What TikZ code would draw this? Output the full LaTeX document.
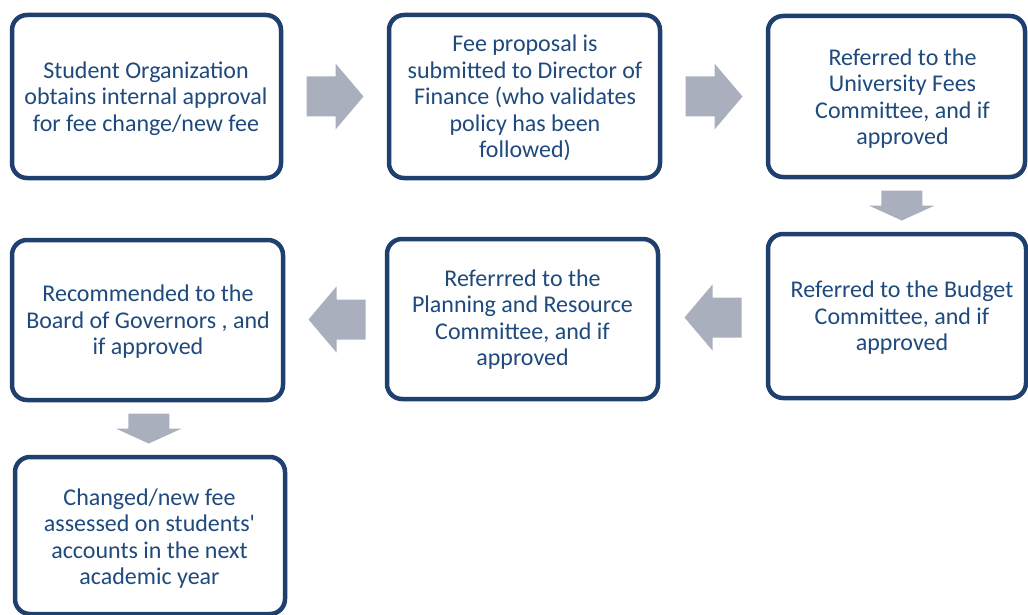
\documentclass[tikz,border=0pt]{standalone}
\usepackage{fontspec}
\setmainfont{Carlito}
\usetikzlibrary{calc}
\definecolor{boxline}{HTML}{1F3F6E}
\definecolor{boxtext}{HTML}{1F4A7D}
\definecolor{arrowfill}{HTML}{A9AFBD}
\tikzset{
  stepbox/.style={draw=boxline, line width=4.5pt, rounded corners=15pt, fill=white, inner sep=0pt},
  steptext/.style={text=boxtext, align=center, inner sep=0pt,
    font=\fontsize{24}{26.5}\selectfont},
  harrow/.pic={\fill[arrowfill] (-28.5,-20) -- (0.5,-20) -- (0.5,-33) -- (28.5,0) -- (0.5,33) -- (0.5,20) -- (-28.5,20) -- cycle;},
  varrow/.pic={\fill[arrowfill] (-20.5,-15) -- (20.5,-15) -- (20.5,0) -- (33,0) -- (0,15) -- (-33,0) -- (-20.5,0) -- cycle;}
}
\begin{document}
\begin{tikzpicture}[x=1pt,y=-1pt]
\useasboundingbox (0,0) rectangle (1028,615);
\clip (0,0) rectangle (1028,615);
\node[stepbox, minimum width=269pt, minimum height=163pt] (b1) at (146.5,96.5) {};
\node[stepbox, minimum width=271pt, minimum height=163pt] (b2) at (524.5,96.5) {};
\node[stepbox, minimum width=257pt, minimum height=161pt] (b3) at (896.5,96.5) {};
\node[stepbox, minimum width=258pt, minimum height=164pt] (b4) at (897,316) {};
\node[stepbox, minimum width=271pt, minimum height=160pt] (b5) at (522.5,319) {};
\node[stepbox, minimum width=271pt, minimum height=160pt] (b6) at (147.5,320) {};
\node[stepbox, minimum width=270pt, minimum height=157pt] (b7) at (150,535.5) {};
\node[steptext] (t1) at ($(b1.center)+(-0.5,2)$)
  {Student Organization\\obtains internal approval\\for fee change/new fee};
\node[steptext] (t2) at ($(b2.center)+(0.5,1.5)$)
  {Fee proposal is\\submitted to Director of\\Finance (who validates\\policy has been\\followed)};
\node[steptext] (t3) at ($(b3.center)+(6,2)$)
  {Referred to the\\University Fees\\Committee, and if\\approved};
\node[steptext] (t4) at ($(b4.center)+(5,2)$)
  {Referred to the Budget\\Committee, and if\\approved};
\node[steptext] (t5) at ($(b5.center)+(0,0.5)$)
  {Referrred to the\\Planning and Resource\\Committee, and if\\approved};
\node[steptext] (t6) at ($(b6.center)+(0.5,2)$)
  {Recommended to the\\Board of Governors , and\\if approved};
\node[steptext] (t7) at ($(b7.center)+(-0.5,3)$)
  {Changed/new fee\\assessed on students\textquotesingle\\accounts in the next\\academic year};
\coordinate (a1) at ($(b1.east)!0.5!(b2.west)$);
\coordinate (a2) at ($(b2.east)!0.5!(b3.west)$);
\coordinate (a3) at ($(b3.south)!0.5!(b4.north)+(5,0)$);
\coordinate (a4) at ($(b4.west)!0.5!(b5.east)$);
\coordinate (a5) at ($(b5.west)!0.5!(b6.east)+(2,0)$);
\coordinate (a6) at ($(b6.south)!0.5!(b7.north)$);
\pic at (a1) {harrow};
\pic at (a2) {harrow};
\pic at (a3) {varrow};
\pic[rotate=180] at (a4) {harrow};
\pic[rotate=180] at (a5) {harrow};
\pic at (a6) {varrow};
\end{tikzpicture}
\end{document}
